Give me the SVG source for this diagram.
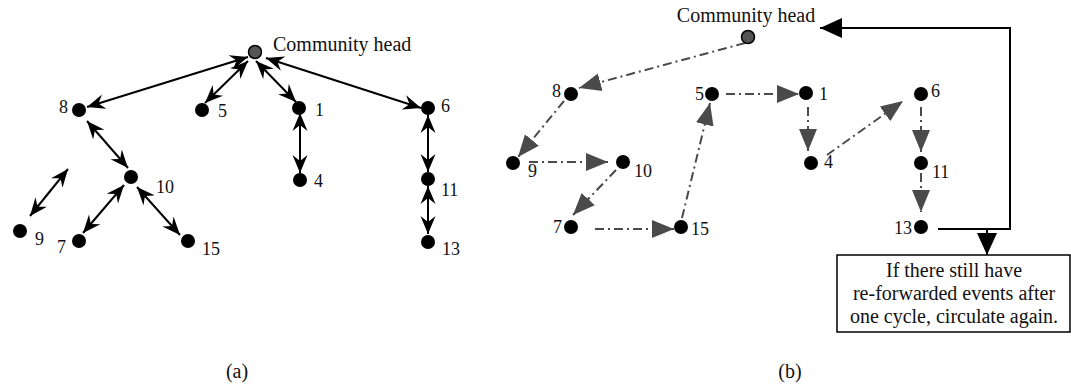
<svg xmlns="http://www.w3.org/2000/svg" width="1071" height="385" viewBox="0 0 1071 385">
<style>
text{font-family:"Liberation Serif","Times New Roman",serif;fill:#111}
.lbl{font-size:18px}
.big{font-size:20px}
.n{fill:#000}
.head{fill:#555;stroke:#000;stroke-width:1.5}
.sa{stroke:#000;stroke-width:2;fill:none}
.db{stroke:#4a4a4a;stroke-width:2;fill:none;stroke-dasharray:9 4 2 4}
.fb{stroke:#000;stroke-width:2;fill:none}
</style>
<defs>
<marker id="ah" viewBox="-18 -8 19 16" refX="0" refY="0" markerWidth="19" markerHeight="16" markerUnits="userSpaceOnUse" orient="auto-start-reverse">
<path d="M0,0 L-18,-7.5 L-12,0 L-18,7.5 Z" fill="#000"/>
</marker>
<marker id="gh" viewBox="-22 -10 23 20" refX="0" refY="0" markerWidth="23" markerHeight="20" markerUnits="userSpaceOnUse" orient="auto">
<path d="M0,0 L-22,-9 L-22,9 Z" fill="#4a4a4a"/>
</marker>
<marker id="bh" viewBox="-22 -11 23 22" refX="0" refY="0" markerWidth="23" markerHeight="22" markerUnits="userSpaceOnUse" orient="auto">
<path d="M0,0 L-22,-10 L-22,10 Z" fill="#000"/>
</marker>
</defs>

<g id="connectors">
<!-- (a) -->
<line class="sa" x1="248" y1="57" x2="87" y2="107" marker-start="url(#ah)" marker-end="url(#ah)"/>
<line class="sa" x1="248" y1="61" x2="205" y2="103" marker-start="url(#ah)" marker-end="url(#ah)"/>
<line class="sa" x1="256" y1="61" x2="296" y2="102" marker-start="url(#ah)" marker-end="url(#ah)"/>
<line class="sa" x1="266" y1="58" x2="421" y2="108" marker-start="url(#ah)" marker-end="url(#ah)"/>
<line class="sa" x1="300" y1="113" x2="300" y2="173" marker-start="url(#ah)" marker-end="url(#ah)"/>
<line class="sa" x1="428" y1="115" x2="428" y2="172" marker-start="url(#ah)" marker-end="url(#ah)"/>
<line class="sa" x1="428" y1="186" x2="428" y2="234" marker-start="url(#ah)" marker-end="url(#ah)"/>
<line class="sa" x1="87" y1="121" x2="128" y2="168" marker-start="url(#ah)" marker-end="url(#ah)"/>
<line class="sa" x1="68" y1="169" x2="30" y2="216" marker-start="url(#ah)" marker-end="url(#ah)"/>
<line class="sa" x1="124" y1="185" x2="83" y2="233" marker-start="url(#ah)" marker-end="url(#ah)"/>
<line class="sa" x1="137" y1="187" x2="180" y2="235" marker-start="url(#ah)" marker-end="url(#ah)"/>
<!-- (b) -->
<line class="db" x1="745" y1="43" x2="579" y2="88" marker-end="url(#gh)"/>
<line class="db" x1="564" y1="101" x2="518" y2="157" marker-end="url(#gh)"/>
<line class="db" x1="529" y1="162" x2="608" y2="162" marker-end="url(#gh)"/>
<line class="db" x1="616" y1="170" x2="573" y2="215" marker-end="url(#gh)"/>
<line class="db" x1="595" y1="229" x2="674" y2="229" marker-end="url(#gh)"/>
<line class="db" x1="682" y1="218" x2="710" y2="103" marker-end="url(#gh)"/>
<line class="db" x1="726" y1="94" x2="799" y2="94" marker-end="url(#gh)"/>
<line class="db" x1="808" y1="107" x2="808" y2="151" marker-end="url(#gh)"/>
<line class="db" x1="827" y1="155" x2="903" y2="101" marker-end="url(#gh)"/>
<line class="db" x1="921" y1="107" x2="921" y2="152" marker-end="url(#gh)"/>
<line class="db" x1="921" y1="173" x2="921" y2="212" marker-end="url(#gh)"/>
<polyline class="fb" points="938,229 1010,229 1010,28 820,28" marker-end="url(#bh)"/>
<line class="fb" x1="987" y1="229" x2="987" y2="255" marker-end="url(#bh)"/>
</g>

<!-- (a) nodes -->
<g id="a-head"><circle class="head" cx="255" cy="52" r="6.5"/><text class="big" x="273" y="51">Community head</text></g>
<g id="a-8"><circle class="n" cx="79" cy="110" r="7"/><text class="lbl" x="59" y="113">8</text></g>
<g id="a-5"><circle class="n" cx="202" cy="110" r="7"/><text class="lbl" x="218" y="117">5</text></g>
<g id="a-1"><circle class="n" cx="299" cy="108" r="7"/><text class="lbl" x="315" y="116">1</text></g>
<g id="a-6"><circle class="n" cx="428" cy="108" r="7"/><text class="lbl" x="441" y="112">6</text></g>
<g id="a-10"><circle class="n" cx="131" cy="177" r="7"/><text class="lbl" x="156" y="193">10</text></g>
<g id="a-4"><circle class="n" cx="300" cy="180" r="7"/><text class="lbl" x="314" y="187">4</text></g>
<g id="a-11"><circle class="n" cx="428" cy="179" r="7"/><text class="lbl" x="441" y="196">11</text></g>
<g id="a-9"><circle class="n" cx="20" cy="231" r="7"/><text class="lbl" x="35" y="245">9</text></g>
<g id="a-7"><circle class="n" cx="79" cy="241" r="7"/><text class="lbl" x="57" y="253">7</text></g>
<g id="a-15"><circle class="n" cx="188" cy="241" r="7"/><text class="lbl" x="202" y="255">15</text></g>
<g id="a-13"><circle class="n" cx="428" cy="242" r="7"/><text class="lbl" x="442" y="255">13</text></g>
<text id="cap-a" class="big" x="237" y="378" text-anchor="middle">(a)</text>

<!-- (b) nodes -->
<g id="b-head"><circle class="head" cx="748" cy="37" r="6.5"/><text class="big" x="746" y="22" text-anchor="middle">Community head</text></g>
<g id="b-8"><circle class="n" cx="571" cy="94" r="7"/><text class="lbl" x="552" y="97">8</text></g>
<g id="b-9"><circle class="n" cx="513" cy="163" r="7"/><text class="lbl" x="528" y="177">9</text></g>
<g id="b-10"><circle class="n" cx="623" cy="162" r="7"/><text class="lbl" x="634" y="177">10</text></g>
<g id="b-7"><circle class="n" cx="571" cy="227" r="7"/><text class="lbl" x="553" y="233">7</text></g>
<g id="b-15"><circle class="n" cx="681" cy="227" r="7"/><text class="lbl" x="691" y="235">15</text></g>
<g id="b-5"><circle class="n" cx="712" cy="94" r="7"/><text class="lbl" x="695" y="100">5</text></g>
<g id="b-1"><circle class="n" cx="806" cy="93" r="7"/><text class="lbl" x="819" y="100">1</text></g>
<g id="b-4"><circle class="n" cx="811" cy="163" r="7"/><text class="lbl" x="824" y="168">4</text></g>
<g id="b-6"><circle class="n" cx="921" cy="94" r="7"/><text class="lbl" x="931" y="97">6</text></g>
<g id="b-11"><circle class="n" cx="921" cy="163" r="7"/><text class="lbl" x="932" y="178">11</text></g>
<g id="b-13"><circle class="n" cx="921" cy="227" r="7"/><text class="lbl" x="912" y="234" text-anchor="end">13</text></g>
<g id="b-note">
<rect x="837" y="255" width="233" height="77" fill="#fff" stroke="#000" stroke-width="1.5"/>
<text class="big" x="954" y="277" text-anchor="middle">If there still have</text>
<text class="big" x="954" y="300" text-anchor="middle">re-forwarded events after</text>
<text class="big" x="954" y="323" text-anchor="middle">one cycle, circulate again.</text>
</g>
<text id="cap-b" class="big" x="790" y="378" text-anchor="middle">(b)</text>
</svg>
